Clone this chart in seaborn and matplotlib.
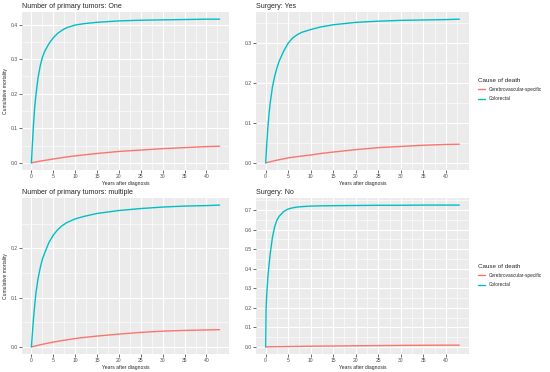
import numpy as np
import pandas as pd
import matplotlib
matplotlib.use("Agg")
import matplotlib.pyplot as plt
import seaborn as sns
from matplotlib.ticker import FixedLocator, FormatStrFormatter

# years after diagnosis (common grid)
years = [0, 0.1, 0.25, 0.5, 0.75, 1, 1.5, 2, 2.5, 3, 4, 5, 6, 7, 8,
         10, 12, 15, 20, 25, 30, 35, 40, 43]

causes = ["Cerebrovascular-specific", "Colorectal"]

# Number of primary tumors: One
one_crc = [0, 0.025, 0.06, 0.115, 0.16, 0.193, 0.245, 0.28, 0.305, 0.322, 0.345, 0.362,
           0.375, 0.384, 0.391, 0.399, 0.403, 0.407, 0.411, 0.413, 0.414, 0.415, 0.416, 0.416]
one_cvd = [0, 0.0002, 0.0006, 0.0012, 0.0018, 0.0024, 0.0036, 0.0048, 0.006, 0.007, 0.009, 0.011,
           0.013, 0.015, 0.017, 0.020, 0.023, 0.027, 0.033, 0.037, 0.041, 0.044, 0.047, 0.048]

# Surgery: Yes
yes_crc = [0, 0.02, 0.05, 0.09, 0.123, 0.15, 0.19, 0.217, 0.238, 0.255, 0.28, 0.30,
           0.313, 0.321, 0.327, 0.334, 0.34, 0.346, 0.352, 0.355, 0.357, 0.358, 0.359, 0.36]
yes_cvd = [0, 0.0003, 0.0007, 0.0014, 0.002, 0.0027, 0.004, 0.0053, 0.0066, 0.0078, 0.010, 0.0125,
           0.014, 0.0155, 0.017, 0.0195, 0.023, 0.027, 0.033, 0.038, 0.041, 0.044, 0.046, 0.0466]

# Number of primary tumors: multiple
mul_crc = [0, 0.013, 0.031, 0.06, 0.084, 0.107, 0.138, 0.16, 0.178, 0.19, 0.212, 0.227,
           0.238, 0.246, 0.252, 0.26, 0.265, 0.271, 0.277, 0.281, 0.284, 0.286, 0.287, 0.288]
mul_cvd = [0, 0.0002, 0.0005, 0.001, 0.0016, 0.0021, 0.0032, 0.0042, 0.0052, 0.0062, 0.008, 0.0098,
           0.0113, 0.0128, 0.0142, 0.017, 0.0192, 0.022, 0.026, 0.0295, 0.032, 0.0335, 0.0345, 0.035]

# Surgery: No
no_crc = [0, 0.2, 0.275, 0.36, 0.42, 0.475, 0.56, 0.615, 0.648, 0.668, 0.692, 0.705,
          0.711, 0.715, 0.717, 0.72, 0.721, 0.722, 0.723, 0.724, 0.724, 0.725, 0.725, 0.725]
no_cvd = [0, 0.0001, 0.0002, 0.0004, 0.0006, 0.0007, 0.0009, 0.001, 0.0012, 0.0013, 0.0016, 0.002,
          0.0023, 0.0026, 0.0029, 0.0035, 0.004, 0.0047, 0.0058, 0.0068, 0.0077, 0.0084, 0.0089, 0.009]

titles = ["Number of primary tumors: One", "Surgery: Yes",
          "Number of primary tumors: multiple", "Surgery: No"]
panels = [(one_cvd, one_crc), (yes_cvd, yes_crc), (mul_cvd, mul_crc), (no_cvd, no_crc)]

x_ticks = [0, 5, 10, 15, 20, 25, 30, 35, 40]

palette = {"Cerebrovascular-specific": "#F8766D", "Colorectal": "#00BFC4"}

sns.set_theme(style="darkgrid", rc={
    "axes.facecolor": "#EBEBEB",
    "grid.color": "white",
    "axes.edgecolor": "#EBEBEB",
    "xtick.color": "#333333",
    "ytick.color": "#333333",
})
plt.rcParams["font.family"] = ["Liberation Sans", "DejaVu Sans"]

fig = plt.figure(figsize=(5.5, 3.72), dpi=100)
W, H = 550, 372
boxes = [(22, 12, 229, 170), (256, 12, 469, 170),
         (22, 198, 229, 354), (256, 198, 469, 354)]

for i, ((cvd, crc), title, (x0, y0, x1, y1)) in enumerate(zip(panels, titles, boxes)):
    ax = fig.add_axes([x0 / W, 1 - y1 / H, (x1 - x0) / W, (y1 - y0) / H])
    df = pd.DataFrame({
        "Years": years * 2,
        "Mortality": cvd + crc,
        "Cause of death": [causes[0]] * len(years) + [causes[1]] * len(years),
    })
    sns.lineplot(data=df, x="Years", y="Mortality", hue="Cause of death",
                 palette=palette, linewidth=1.0, legend=False, ax=ax)
    ax.margins(0.05)
    top = max(crc)
    y_ticks = [k / 10 for k in range(int(top * 10 + 1e-9) + 1)]
    ax.xaxis.set_major_locator(FixedLocator(x_ticks))
    ax.xaxis.set_minor_locator(FixedLocator([t + 2.5 for t in x_ticks]))
    ax.yaxis.set_major_locator(FixedLocator(y_ticks))
    ax.yaxis.set_minor_locator(FixedLocator([t + 0.05 for t in y_ticks]))
    ax.yaxis.set_major_formatter(FormatStrFormatter("%.1f"))
    ax.grid(which="major", color="white", linewidth=0.8)
    ax.grid(which="minor", color="white", linewidth=0.4)
    ax.tick_params(which="major", length=2, width=0.5, pad=1, labelsize=3.6,
                   labelcolor="#4D4D4D", bottom=True, left=True)
    ax.tick_params(which="minor", length=0)
    for s in ax.spines.values():
        s.set_visible(False)
    ax.set_title(title, loc="left", fontsize=5, pad=3)
    ax.set_xlabel("Years after diagnosis", fontsize=3.6, labelpad=1)
    ax.set_ylabel("Cumulative mortality" if i % 2 == 0 else "", fontsize=3.6, labelpad=2)

    if i % 2 == 1:
        handles = [plt.Line2D([], [], color=palette[c], linewidth=1.0) for c in causes]
        leg_y = 1 - (76 if i == 1 else 262) / H
        leg = fig.legend(handles, causes, title="Cause of death", loc="upper left",
                         bbox_to_anchor=(476 / W, leg_y), frameon=False,
                         fontsize=3.4, title_fontsize=4.5, handlelength=1.6,
                         handletextpad=0.8, labelspacing=0.9, borderaxespad=0)
        leg._legend_box.align = "left"

fig.savefig("out.png", dpi=100)
